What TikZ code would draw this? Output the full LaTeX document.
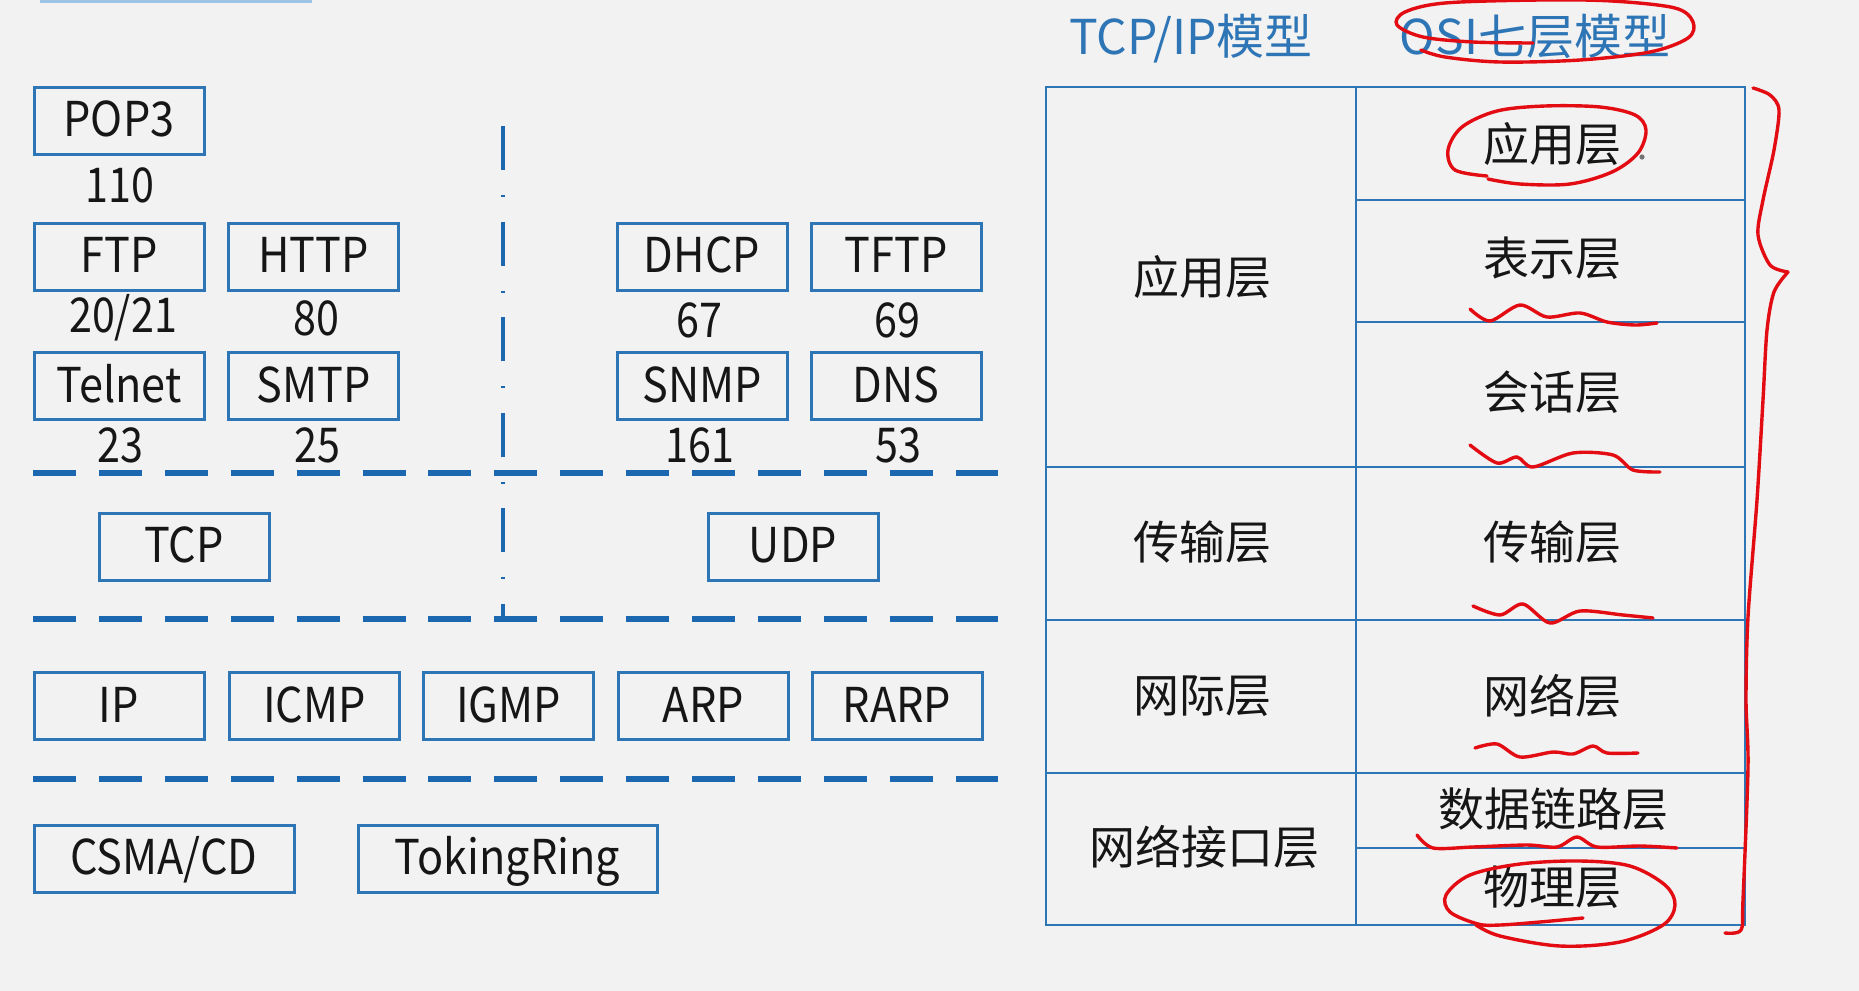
\documentclass[tikz,border=0pt]{standalone}
\usepackage{fontspec}
\setmainfont{Noto Sans CJK SC}
\newfontfamily\labelfont[FakeStretch=0.9]{Noto Sans CJK SC}
\newfontfamily\portfont[FakeStretch=0.86]{Noto Sans CJK SC}
\definecolor{bg}{RGB}{242,242,242}
\definecolor{boxblue}{RGB}{46,117,182}
\definecolor{dashblue}{RGB}{28,104,176}
\definecolor{ink}{RGB}{22,22,22}
\definecolor{pen}{RGB}{226,12,18}
\definecolor{barblue}{RGB}{157,195,230}
\tikzset{
  proto/.style={draw=boxblue, line width=1.5pt, minimum width=85pt, minimum height=33.5pt,
    inner sep=0pt, text height=16pt, text depth=0pt, font=\labelfont\fontsize{24}{29}\selectfont, text=ink},
  port/.style={inner sep=0pt, font=\portfont\fontsize{24}{29}\selectfont, text=ink},
  layer/.style={inner sep=0pt, text height=17.5pt, text depth=0pt, font=\fontsize{23}{28}\selectfont, text=ink},
  heading/.style={inner sep=0pt, text height=18pt, text depth=0pt, font=\fontsize{24}{29}\selectfont, text=boxblue},
  hsep/.style={draw=dashblue, line width=3pt, dash pattern=on 21.5pt off 11.45pt},
  vsep/.style={draw=dashblue, line width=2.3pt, dash pattern=on 22pt off 12.5pt on 1.2pt off 12.05pt},
  tline/.style={draw=boxblue, line width=1.4pt},
  redpen/.style={draw=pen, line width=1.7pt, line cap=round, line join=round}
}
\begin{document}
\begin{tikzpicture}[x=0.5pt,y=-0.5pt]
\useasboundingbox (0,0) rectangle (1859,991);
\fill[bg] (0,0) rectangle (1859,991);
\fill[barblue] (40,0) rectangle (312,3);

% ---- left part: protocols ----
\node[proto] (pop3) at (119,120.5) {POP3};
\node[port] (p110) at (120,185) {110};
\node[proto] (ftp) at (119,256.5) {FTP};
\node[proto] (http) at (313.5,256.5) {HTTP};
\node[port] (p2021) at (123,318) {20/21};
\node[port] (p80) at (316,318) {80};
\node[proto] (telnet) at (119,386) {Telnet};
\node[proto] (smtp) at (313.5,386) {SMTP};
\node[port] (p23) at (120,445) {23};
\node[port] (p25) at (317,445) {25};

\node[proto] (dhcp) at (702,256.5) {DHCP};
\node[proto] (tftp) at (896,256.5) {TFTP};
\node[port] (p67) at (699,320) {67};
\node[port] (p69) at (897,320) {69};
\node[proto] (snmp) at (702,386) {SNMP};
\node[proto] (dns) at (896,386) {DNS};
\node[port] (p161) at (700,445) {161};
\node[port] (p53) at (898,445) {53};

\node[proto] (tcp) at (184,546.5) {TCP};
\node[proto] (udp) at (793,546.5) {UDP};

\node[proto] (ip) at (119,706) {IP};
\node[proto] (icmp) at (314.5,706) {ICMP};
\node[proto] (igmp) at (508.5,706) {IGMP};
\node[proto] (arp) at (703.5,706) {ARP};
\node[proto] (rarp) at (897,706) {RARP};

\node[proto, minimum width=130pt] (csma) at (164,858.5) {CSMA/CD};
\node[proto, minimum width=149.5pt] (token) at (507.5,858.5) {TokingRing};

% separators
\draw[vsep] (503,126) -- (503,619);
\draw[hsep] (33,473) -- (998,473);
\draw[hsep] (33,619) -- (998,619);
\draw[hsep] (33,779) -- (998,779);

% ---- right part: model table ----
\node[heading] (tcpiphead) at (1191,36) {TCP/IP模型};
\node[heading] (osihead) at (1535,36) {OSI七层模型};

\draw[tline] (1046,87) rectangle (1745,925);
\draw[tline] (1356,87) -- (1356,925);
\draw[tline] (1046,467) -- (1745,467);
\draw[tline] (1046,620) -- (1745,620);
\draw[tline] (1046,773) -- (1745,773);
\draw[tline] (1356,200) -- (1745,200);
\draw[tline] (1356,322) -- (1745,322);
\draw[tline] (1356,848) -- (1745,848);

\node[layer] (tapp) at (1202,277) {应用层};
\node[layer] (ttrans) at (1202,542) {传输层};
\node[layer] (tnet) at (1202,695) {网际层};
\node[layer] (tlink) at (1204,847) {网络接口层};

\node[layer] (oapp) at (1552,144) {应用层};
\node[layer] (opres) at (1552,258) {表示层};
\node[layer] (osess) at (1552,392) {会话层};
\node[layer] (otrans) at (1552,542) {传输层};
\node[layer] (onet) at (1552,696) {网络层};
\node[layer] (odl) at (1553,809) {数据链路层};
\node[layer] (ophy) at (1552,887) {物理层};

% ---- red hand annotations ----
\draw[redpen] plot[smooth, tension=0.55] coordinates {(1533,43) (1473,42) (1423,37) (1397,25) (1405,12) (1445,3) (1540,0) (1612,1) (1675,8) (1693,22) (1688,38) (1650,52) (1580,60) (1500,62) (1445,57) (1421,50)};
\draw[redpen] plot[smooth, tension=0.55] coordinates {(1487,176) (1455,170) (1448,150) (1462,127) (1497,111) (1545,106) (1600,107) (1635,115) (1646,130) (1638,153) (1612,172) (1570,184) (1520,184) (1488,179)};
\fill[ink!60] (1642,157) circle (1.3pt);
\draw[redpen] plot[smooth, tension=0.5] coordinates {(1470,309) (1490,321) (1520,305) (1547,317) (1580,313) (1607,322) (1635,325) (1657,323)};
\draw[redpen] plot[smooth, tension=0.5] coordinates {(1470,445) (1497,463) (1517,457) (1533,467) (1573,453) (1613,455) (1633,470) (1660,472)};
\draw[redpen] plot[smooth, tension=0.5] coordinates {(1473,606) (1500,615) (1523,604) (1550,623) (1580,611) (1623,615) (1653,618)};
\draw[redpen] plot[smooth, tension=0.5] coordinates {(1475,748) (1497,744) (1520,757) (1553,752) (1573,754) (1593,746) (1607,753) (1638,753)};
\draw[redpen] plot[smooth, tension=0.5] coordinates {(1417,835) (1433,848) (1473,847) (1527,845) (1557,847) (1577,837) (1597,847) (1640,846) (1677,848)};
\draw[redpen] plot[smooth, tension=0.55] coordinates {(1583,918) (1540,922) (1500,925) (1478,924) (1450,912) (1446,895) (1470,875) (1520,864) (1580,861) (1630,866) (1665,885) (1675,905) (1663,925) (1620,942) (1560,946) (1500,936) (1476,925)};
\draw[redpen] plot[smooth, tension=0.5] coordinates {(1753,88) (1770,95) (1779,110) (1774,150) (1763,200) (1758,235) (1770,265) (1788,272)};
\draw[redpen] plot[smooth, tension=0.5] coordinates {(1788,272) (1774,292) (1767,330) (1763,400) (1757,500) (1748,617) (1746,700) (1748,767) (1743,900) (1741,930) (1725,933)};
\end{tikzpicture}
\end{document}
